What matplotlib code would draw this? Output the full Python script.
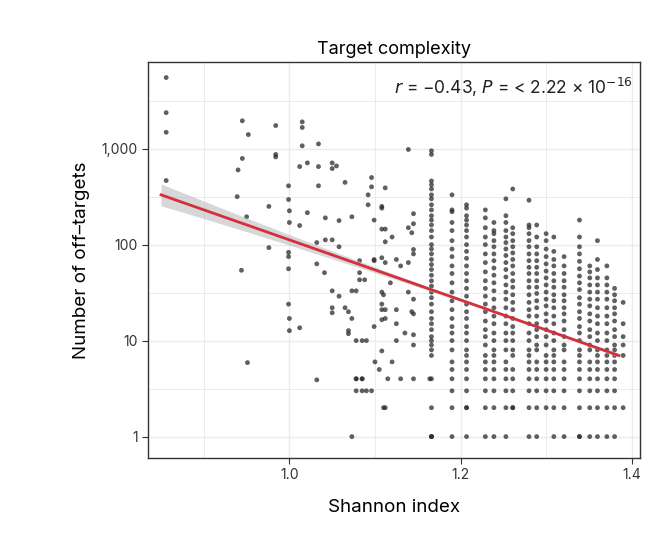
import numpy as np
import matplotlib
matplotlib.use("Agg")
import matplotlib.pyplot as plt
from matplotlib.ticker import FixedLocator, NullFormatter

plt.rcParams["font.family"] = "Inter"

# Sparse points (shannon index, off-targets)
sparse_points = [
    (0.856,5500),(0.856,2370),(0.856,1480),(0.856,465),(0.945,1950),(0.952,1400),(0.984,1740),(0.984,870),
    (0.984,820),(0.945,790),(0.94,600),(0.939,316),(0.976,250),(0.95,195),(0.976,93),(0.944,54),(0.951,5.9),
    (1.015,1900),(1.015,1660),(1.015,1070),(0.999,410),(0.999,295),(1.0,225),(1.0,170),(0.999,83),(0.999,75),
    (0.999,56),(0.999,24),(1.0,17),(1.0,12.7),(1.012,13.6),(1.012,650),(1.012,158),(1.021,710),(1.021,215),
    (1.034,1120),(1.034,650),(1.034,410),(1.042,190),(1.032,105),(1.042,112),(1.032,63),(1.041,51),(1.032,3.9),
    (1.05,710),(1.055,660),(1.05,620),(1.058,178),(1.065,445),(1.073,195),(1.05,112),(1.058,95),
    (1.05,33),(1.058,29),(1.05,22),(1.05,19.5),(1.065,22),(1.069,20),(1.073,33),(1.073,17),(1.078,33),
    (1.069,11.8),(1.073,1),(1.069,12.7),(1.078,10),(1.078,4),(1.085,10),(1.09,10),(1.078,3),(1.085,3),
    (1.078,4),(1.085,4),(1.11,2),(1.112,2),(1.096,500),(1.096,400),(1.092,330),(1.092,260),(1.112,390),
    (1.108,250),(1.108,240),(1.099,180),(1.108,145),(1.112,145),(1.112,107),(1.108,73),(1.112,65),
    (1.099,70),(1.099,68),(1.082,68),(1.082,51),(1.082,43),(1.088,43),(1.108,32),(1.108,24),(1.108,21),
    (1.112,21),(1.108,16.5),(1.112,17),(1.099,14),(1.108,7.8),(1.085,4),(1.09,3),(1.096,3),
    (1.125,70),(1.125,21),(1.125,10),(1.139,980),(1.145,210),(1.145,165),(1.143,133),(1.139,150),
    (1.145,89),(1.145,80),(1.139,65),(1.139,32),(1.145,27),(1.143,20),(1.145,19),(1.145,11.5),(1.145,9),
    (1.145,4),(1.164,4),(1.12,120),(1.13,60),(1.118,40),(1.11,30),(1.125,15),(1.135,12),(1.1,6),
    (1.105,5),(1.115,4),(1.13,4),(1.12,6),
]
sparse_x = [p[0] for p in sparse_points]
sparse_y = [p[1] for p in sparse_points]

# Dense columns: x position -> list of off-target counts
col_x = [1.166,1.19,1.207,1.229,1.239,1.253,1.261,1.28,1.289,1.30,1.309,1.321,1.339,1.351,1.36,1.371,1.38,1.39]
col_y = [
    [950,870,460,420,380,330,300,260,230,200,180,160,140,120,100,90,80,70,62,55,48,42,37,32,28,24,20,17,15,13,11,10,9,8,7,4,2,1,1,1],
    [330,230,220,170,140,110,90,75,60,50,40,32,26,21,17,14,12,10,8,6,5,4,3,2,1],
    [260,240,200,180,160,140,120,100,85,72,60,50,42,35,29,24,20,17,14,12,10,8,7,6,5,4,3,2,2,1],
    [230,190,150,120,100,80,65,52,42,35,29,24,20,16,13,11,9,7,6,5,4,3,2,1],
    [170,140,130,110,95,80,68,57,48,40,33,27,22,18,15,12,10,8,7,6,5,4,3,2,1],
    [300,200,170,140,120,105,90,77,65,55,46,38,32,27,22,18,15,12,10,8,6,5,4,3,2,1],
    [380,150,130,110,95,82,70,60,50,42,36,30,25,21,17,14,12,10,8,7,5,4,3,2,2],
    [290,160,150,130,110,95,80,68,58,50,42,36,30,25,21,18,15,12,10,8,7,6,5,4,3,2,1],
    [160,120,95,80,68,58,50,42,36,31,26,22,18,15,13,11,9,8,6,5,4,3,2,1],
    [130,110,90,75,63,53,45,38,32,27,23,19,16,13,11,9,7,6,5,4,3,2],
    [120,85,70,60,50,42,36,30,26,22,18,15,12,10,8,7,6,5,4,3,2,1],
    [75,60,50,42,36,30,26,22,19,16,13,11,9,8,6,5,4,3,2,1],
    [180,120,95,80,67,56,47,40,34,28,24,20,17,14,12,10,8,7,6,5,4,3,2,1,1],
    [60,52,45,38,32,27,23,19,16,13,11,9,8,6,5,4,3,2,1],
    [110,70,55,45,38,32,27,22,18,15,12,10,8,7,6,5,4,3,2,1],
    [60,45,38,32,27,22,18,15,12,10,8,7,6,5,4,3,2,1],
    [35,30,26,22,19,16,13,11,9,8,7,6,5,4,3,2,1],
    [25,15,11,9,7,2],
]

fit_x = [0.85, 1.385]
fit_y = [330, 7]

xs = list(sparse_x)
ys = list(sparse_y)
for cx, cy in zip(col_x, col_y):
    xs += [cx] * len(cy)
    ys += cy

fig = plt.figure(figsize=(6.5, 5.53), dpi=100)
ax = fig.add_axes([0.228, 0.172, 0.757, 0.716])
ax.set_yscale("log")
ax.set_xlim(0.835, 1.41)
ax.set_ylim(0.6, 8000)

for gx in [0.9, 1.0, 1.1, 1.2, 1.3, 1.4]:
    ax.axvline(gx, color="#ebebeb", lw=1.0 if gx in (1.0, 1.2, 1.4) else 0.7, zorder=0)
for gy in [1, 10, 100, 1000]:
    ax.axhline(gy, color="#ebebeb", lw=1.0, zorder=0)
    ax.axhline(gy * 10 ** 0.5, color="#ebebeb", lw=0.7, zorder=0)

ax.scatter(xs, ys, s=12, color="#2b2b2b", alpha=0.75, edgecolors="none", zorder=2)

lx = np.linspace(fit_x[0], fit_x[1], 100)
slope = (np.log10(fit_y[1]) - np.log10(fit_y[0])) / (fit_x[1] - fit_x[0])
ly = np.log10(fit_y[0]) + slope * (lx - fit_x[0])
hw = 0.012 + 0.55 * (lx - 1.28) ** 2
ax.fill_between(lx, 10 ** (ly - hw), 10 ** (ly + hw), color="#bdbdbd", alpha=0.6, lw=0, zorder=3)
ax.plot(lx, 10 ** ly, color="#d4303c", lw=2, zorder=4)

ax.xaxis.set_major_locator(FixedLocator([1.0, 1.2, 1.4]))
ax.set_xticklabels(["1.0", "1.2", "1.4"])
ax.yaxis.set_major_locator(FixedLocator([1, 10, 100, 1000]))
ax.set_yticklabels(["1", "10", "100", "1,000"])
ax.yaxis.set_minor_locator(FixedLocator([]))
ax.yaxis.set_minor_formatter(NullFormatter())
ax.tick_params(labelsize=10, colors="#333333", length=4, width=0.8)
for s in ax.spines.values():
    s.set_color("#333333"); s.set_linewidth(1.0)

ax.set_xlabel("Shannon index", fontsize=13.5, labelpad=12)
ax.set_ylabel("Number of off\u2013targets", fontsize=13.5, labelpad=8)
ax.set_title("Target complexity", fontsize=13, pad=6)
ax.text(0.985, 0.965, "$r$ = \u22120.43, $P$ = < 2.22 \u00d7 10$^{\u221216}$",
        transform=ax.transAxes, ha="right", va="top", fontsize=12.5, color="#222222")

fig.savefig("out.png", dpi=100)
